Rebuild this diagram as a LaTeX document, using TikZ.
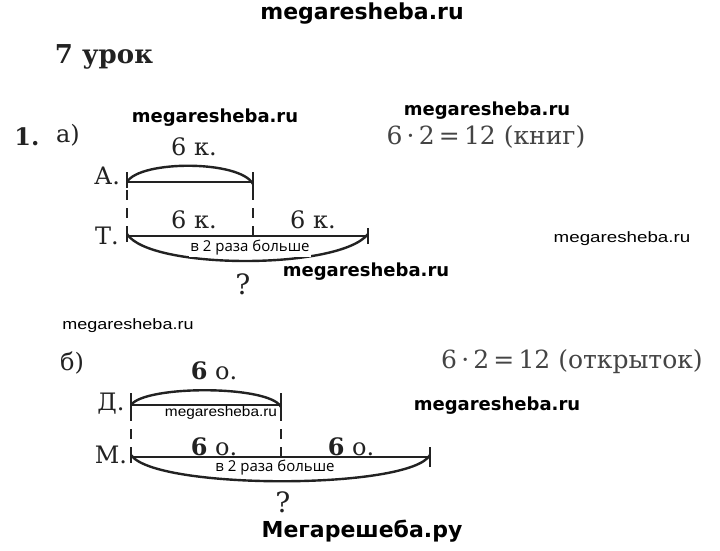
\documentclass[tikz,border=0pt]{standalone}
\usepackage{fontspec}
\setmainfont{DejaVu Serif}
\newfontfamily\wmfont{DejaVu Sans}
\newfontfamily\thinfont{Liberation Sans}
\newfontfamily\lblfont{Open Sans}
\definecolor{ink}{HTML}{222222}
\definecolor{eqc}{HTML}{444444}
\tikzset{
  wmbold/.style={font=\wmfont\bfseries\fontsize{18}{18}\selectfont, text=black, inner sep=0pt},
  wmthin/.style={font=\thinfont\fontsize{15}{15}\selectfont, text=black, inner sep=0pt},
  lab/.style={font=\fontsize{24}{24}\selectfont, text=ink, inner sep=0pt},
  seg/.style={line width=2.4pt, draw=ink},
  arcl/.style={line width=2.4pt, draw=ink},
  dsh/.style={line width=2.2pt, draw=ink, dash pattern=on 10pt off 8pt},
  eq/.style={font=\fontsize{25}{25}\selectfont, text=eqc, inner sep=0pt},
  boxlab/.style={font=\lblfont\fontsize{15}{15}\selectfont, fill=white, inner sep=1.5pt, text=black},
}
\begin{document}
\begin{tikzpicture}[x=1pt,y=-1pt]
\useasboundingbox[fill=white] (0,0) rectangle (720,551);
% headers
\node[wmbold, font=\wmfont\bfseries\fontsize{22}{22}\selectfont] (wm1) at (362,14) {megaresheba.ru};
\node[font=\bfseries\fontsize{26}{26}\selectfont, text=ink, inner sep=0pt] (title) at (104,57) {7 урок};
\node[font=\bfseries\fontsize{24}{24}\selectfont, text=ink, inner sep=0pt] (n1) at (27,137) {1.};
\node[lab] (pa) at (68,135) {а)};
\node[wmbold] (wm2) at (215,118) {megaresheba.ru};
\node[wmbold] (wm3) at (487,111) {megaresheba.ru};
\node[eq] (eq1) at (486,137) {6\,·\,2\,=\,12 (книг)};
% part a
\node[lab] (lA) at (107,176) {А.};
\node[lab] (lT) at (107,236) {Т.};
\coordinate (A0) at (127,182);
\coordinate (A1) at (253,182);
\coordinate (T0) at (127,236);
\coordinate (T1) at (253,236);
\coordinate (T2) at (368,236);
\draw[seg] (A0) -- (A1);
\draw[seg] ([yshift=-8]A1) -- ([yshift=8]A1);
\draw[seg] ([yshift=-6]A0) -- ([yshift=6]A0);
\draw[arcl] (A0) .. controls (140,160) and (240,160) .. ([yshift=-2]A1);
\node[lab] (a6) at (194,147) {6 к.};
\draw[dsh] ([yshift=10]A0) -- ([yshift=-6]T0);
\draw[dsh] ([yshift=10]A1) -- ([yshift=-6]T1);
\draw[seg] (T0) -- (T2);
\draw[seg] ([yshift=-8]T2) -- ([yshift=8]T2);
\draw[seg] ([yshift=-6]T0) -- ([yshift=6]T0);
\draw[arcl] ([yshift=2]T0) .. controls (150,270) and (340,270) .. ([yshift=2]T2);
\node[lab] (t6a) at (194,220) {6 к.};
\node[lab] (t6b) at (313,220) {6 к.};
\node[boxlab] (ba) at (250,248) {в 2 раза больше};
\node[lab, font=\fontsize{28}{28}\selectfont] (qa) at (243,284) {?};
\node[wmbold] (wm4) at (366,272) {megaresheba.ru};
\node[wmthin] (wm5) at (622,239) {\scalebox{1.25}[1]{megaresheba.ru}};
\node[wmthin] (wm6) at (128,326) {\scalebox{1.2}[1]{megaresheba.ru}};
% part b
\node[lab] (pb) at (72,363) {б)};
\node[eq] (eq2) at (572,362) {6\,·\,2\,=\,12 (открыток)};
\node[lab] (lD) at (111,404) {Д.};
\node[lab] (lM) at (111,455) {М.};
\coordinate (D0) at (131,405);
\coordinate (D1) at (281,405);
\coordinate (M0) at (131,457);
\coordinate (M1) at (281,457);
\coordinate (M2) at (430,457);
\draw[seg] (D0) -- (D1);
\draw[seg] ([yshift=-6]D1) -- ([yshift=8]D1);
\draw[seg] ([yshift=-6]D0) -- ([yshift=6]D0);
\draw[arcl] (D0) .. controls (145,385) and (270,385) .. ([yshift=-2]D1);
\node[lab] (d6) at (214,371) {\textbf{6} о.};
\node[wmthin, font=\thinfont\fontsize{14}{14}\selectfont] (wm7) at (221,413) {\scalebox{1.1}[1]{megaresheba.ru}};
\draw[dsh] ([yshift=12]D0) -- ([yshift=-6]M0);
\draw[dsh] ([yshift=12]D1) -- ([yshift=-6]M1);
\draw[seg] (M0) -- (M2);
\draw[seg] ([yshift=-10]M2) -- ([yshift=10]M2);
\draw[seg] ([yshift=-6]M0) -- ([yshift=6]M0);
\draw[arcl] ([yshift=2]M0) .. controls (155,490) and (410,490) .. ([yshift=2]M2);
\node[lab] (m6a) at (214,447) {\textbf{6} о.};
\node[lab] (m6b) at (351,447) {\textbf{6} о.};
\node[boxlab] (bb) at (275,468) {в 2 раза больше};
\node[lab, font=\fontsize{28}{28}\selectfont] (qb) at (283,502) {?};
\node[wmbold] (wm8) at (497,406) {megaresheba.ru};
\node[wmbold, font=\wmfont\bfseries\fontsize{22}{22}\selectfont] (wm9) at (362,531) {Мегарешеба.ру};
\end{tikzpicture}
\end{document}
